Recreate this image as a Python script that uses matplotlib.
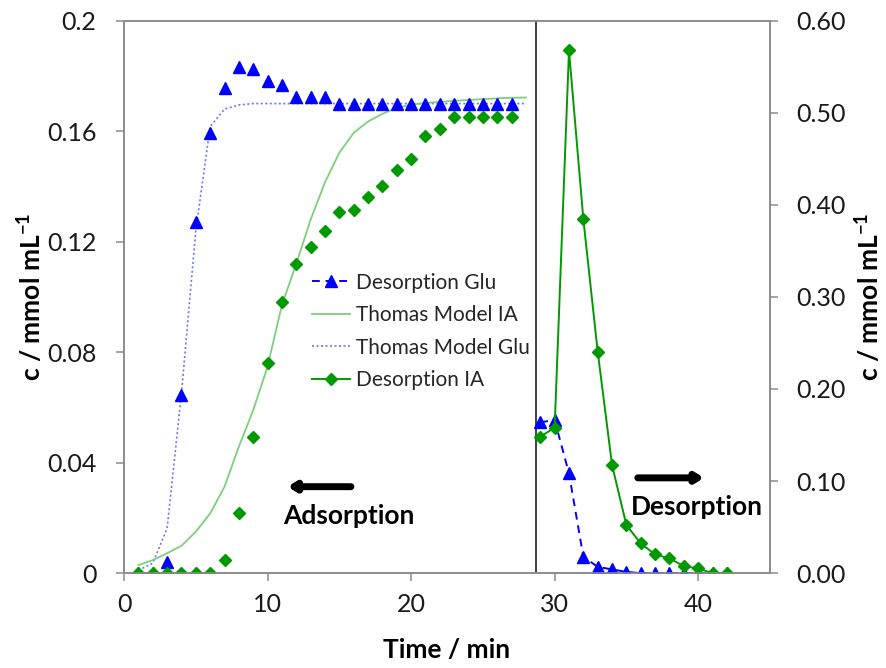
import matplotlib
matplotlib.use("Agg")
import matplotlib.pyplot as plt
from matplotlib.lines import Line2D

plt.rcParams['font.family'] = ['Lato', 'DejaVu Sans']

# adsorption phase (left axis)
t_ads = list(range(1, 28))
glu_ads = [0, 0, 0.0041, 0.0645, 0.127, 0.1593, 0.1756, 0.1831, 0.1825, 0.1783,
           0.1766, 0.1724, 0.1724, 0.1724, 0.1698, 0.1698, 0.1698, 0.1698, 0.1698,
           0.1698, 0.1698, 0.1698, 0.1698, 0.1698, 0.1698, 0.1698, 0.1698]
ia_ads = [0, 0, 0, 0, 0, 0, 0.0047, 0.0216, 0.0492, 0.0760, 0.0981, 0.1119, 0.1182,
          0.1240, 0.1306, 0.1315, 0.1361, 0.1402, 0.1460, 0.1499, 0.1581, 0.1607,
          0.1651, 0.1651, 0.1651, 0.1651, 0.1651]

# Thomas model curves
t_model = list(range(1, 29))
thomas_glu = [0.001, 0.0036, 0.0162, 0.065, 0.124, 0.1617, 0.168, 0.1695, 0.170, 0.170,
              0.170, 0.170, 0.170, 0.170, 0.170, 0.170, 0.170, 0.170, 0.170, 0.170,
              0.170, 0.170, 0.170, 0.170, 0.170, 0.170, 0.170, 0.170]
thomas_ia = [0.0029, 0.0047, 0.0072, 0.0099, 0.015, 0.0216, 0.0313, 0.0458, 0.059, 0.0748,
             0.0971, 0.112, 0.128, 0.1415, 0.1522, 0.1594, 0.1635, 0.1663, 0.1684, 0.1696,
             0.1702, 0.1706, 0.1710, 0.1713, 0.1716, 0.1719, 0.1721, 0.1722]

# desorption phase (right axis)
t_des = list(range(29, 43))
glu_des = [0.1638, 0.1663, 0.1083, 0.0177, 0.0069, 0.004, 0.0014, 0, 0, 0, 0, 0, 0, 0]
ia_des = [0.1482, 0.158, 0.5677, 0.3844, 0.2406, 0.1174, 0.0522, 0.0322, 0.0203, 0.016,
          0.0076, 0.0051, 0, 0]

blue = '#0000FF'
green = '#009A00'
lgreen = '#7CCF7C'
lblue = '#7070FF'
frame = '#8C8C8C'

fig = plt.figure(figsize=(8.86, 6.68), dpi=100)
ax = fig.add_axes([0.140, 0.142, 0.729, 0.827])
ax2 = ax.twinx()

ax.plot(t_model, thomas_glu, color=lblue, lw=1.2, ls=(0, (1.2, 1.5)), zorder=2)
ax.plot(t_model, thomas_ia, color=lgreen, lw=1.3, zorder=2)
ax.plot(t_ads, glu_ads, ls='none', marker='^', ms=9, color=blue, zorder=3)
ax.plot(t_ads, ia_ads, ls='none', marker='D', ms=6, color=green, zorder=3)
ax.axvline(28.7, color='#404040', lw=1.4)

ax2.plot(t_des, glu_des, color=blue, ls=(0, (4, 3)), lw=1.4, marker='^', ms=9)
ax2.plot(t_des, ia_des, color=green, lw=1.4, marker='D', ms=6)

ax.set_xlim(0, 45)
ax.set_ylim(0, 0.2)
ax2.set_ylim(0, 0.6)
ax.set_xticks([0, 10, 20, 30, 40])
ax.set_yticks([0, 0.04, 0.08, 0.12, 0.16, 0.2])
ax.set_yticklabels(['0', '0.04', '0.08', '0.12', '0.16', '0.2'])
ax2.set_yticks([0, 0.1, 0.2, 0.3, 0.4, 0.5, 0.6])
ax2.set_yticklabels(['0.00', '0.10', '0.20', '0.30', '0.40', '0.50', '0.60'])

for a in (ax, ax2):
    for s in a.spines.values():
        s.set_color(frame)
        s.set_linewidth(1.2)
    a.tick_params(direction='out', length=6, width=1.1, color=frame,
                  labelsize=18, labelcolor='#1a1a1a')
ax.tick_params(axis='x', pad=8)
ax.tick_params(axis='y', pad=14)
ax2.tick_params(axis='y', pad=13)

ax.set_xlabel('Time / min', fontsize=19, fontweight='bold', labelpad=16)
ax.set_ylabel('c / mmol mL$^{\\mathregular{-1}}$', fontsize=19, fontweight='bold', labelpad=1)
ax2.set_ylabel('c / mmol mL$^{\\mathregular{-1}}$', fontsize=19, fontweight='bold', labelpad=5)

# phase arrows and labels
ax.annotate('', xy=(11.2, 0.0313), xytext=(16.0, 0.0313),
            arrowprops=dict(arrowstyle='-|>,head_length=0.4,head_width=0.25', lw=5, color='black'))
ax.text(11.1, 0.0208, 'Adsorption', fontsize=19, fontweight='bold', va='center', ha='left')
ax.annotate('', xy=(40.6, 0.0345), xytext=(35.6, 0.0345),
            arrowprops=dict(arrowstyle='-|>,head_length=0.4,head_width=0.25', lw=5, color='black'))
ax.text(35.3, 0.0240, 'Desorption', fontsize=19, fontweight='bold', va='center', ha='left')

handles = [
    Line2D([], [], color=blue, ls=(0, (4, 3)), lw=1.4, marker='^', ms=9),
    Line2D([], [], color=lgreen, lw=1.3),
    Line2D([], [], color=lblue, lw=1.2, ls=(0, (1.2, 1.5))),
    Line2D([], [], color=green, lw=1.4, marker='D', ms=6),
]
labels = ['Desorption Glu', 'Thomas Model IA', 'Thomas Model Glu', 'Desorption IA']
ax2.legend(handles, labels, loc='upper left', bbox_to_anchor=(0.262, 0.578),
           frameon=False, fontsize=15, handlelength=1.8, handletextpad=0.3,
           labelspacing=0.6, labelcolor='#262626')

fig.savefig('out.png', dpi=100)
